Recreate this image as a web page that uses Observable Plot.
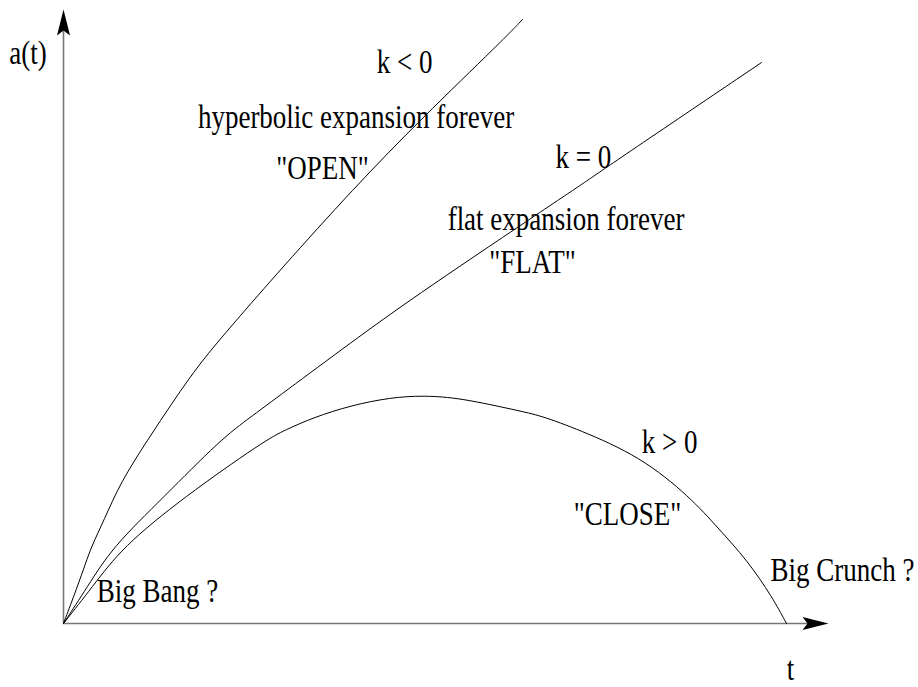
<!DOCTYPE html>
<html>
<head>
<meta charset="utf-8">
<script src="https://cdn.jsdelivr.net/npm/d3@7"></script>
<script src="https://cdn.jsdelivr.net/npm/@observablehq/plot@0.6"></script>
<style>
  html, body { margin: 0; padding: 0; background: #fff; }
</style>
</head>
<body>
<div id="chart"></div>
<script>
// Open universe (k < 0)
const openT = [0, 0.179, 0.288, 0.366, 0.527, 0.745, 1.094, 1.442, 1.778, 2.222, 2.837, 3.791, 4.667, 5.739, 6.000];
const openA = [0, 0.473, 0.782, 1.003, 1.342, 1.837, 2.384, 2.906, 3.388, 3.909, 4.612, 5.668, 6.567, 7.596, 7.870];
// Flat universe (k = 0)
const flatT = [0, 0.310, 0.637, 1.307, 2.052, 2.444, 2.967, 3.882, 4.667, 6.458, 6.850, 7.150, 9.124];
const flatA = [0, 0.473, 0.994, 1.642, 2.397, 2.688, 3.075, 3.752, 4.313, 5.511, 5.772, 5.980, 7.309];
// Closed universe (k > 0)
const closeT = [0, 0.375, 0.767, 1.569, 2.621, 2.902, 3.268, 3.752, 4.275, 4.706, 5.190, 5.935, 6.235, 6.732, 7.542, 8.196, 8.549, 8.941, 9.268, 9.451];
const closeA = [0, 0.473, 0.994, 1.642, 2.378, 2.524, 2.684, 2.840, 2.945, 2.971, 2.938, 2.775, 2.710, 2.528, 2.176, 1.642, 1.251, 0.821, 0.339, 0];

// Annotation labels
const labelText = ["a(t)", "k < 0", "hyperbolic expansion forever", "\"OPEN\"", "k = 0", "flat expansion forever", "\"FLAT\"", "k > 0", "\"CLOSE\"", "Big Bang ?", "Big Crunch ?", "t"];
const labelT = [-0.464, 4.458, 3.824, 3.386, 6.797, 6.569, 6.131, 7.922, 7.373, 1.229, 10.183, 9.503];
const labelA = [7.296, 7.179, 6.450, 5.798, 5.941, 5.121, 4.573, 2.215, 1.277, 0.274, 0.560, -0.730];

// Axis extents
const tMax = 10;
const aMax = 8;

const curves = [
  ...openT.map((t, i) => ({series: "open", t, a: openA[i]})),
  ...flatT.map((t, i) => ({series: "flat", t, a: flatA[i]})),
  ...closeT.map((t, i) => ({series: "close", t, a: closeA[i]}))
];
const labels = labelText.map((text, i) => ({text, t: labelT[i], a: labelA[i]}));
const arrows = [{t: 0, a: aMax, rot: 0}, {t: tMax, a: 0, rot: 90}];

const arrowHead = {
  draw(ctx) {
    ctx.moveTo(0, 0);
    ctx.lineTo(6.5, 26);
    ctx.lineTo(0, 21);
    ctx.lineTo(-6.5, 26);
    ctx.closePath();
  }
};

const fontFamily = "'Liberation Serif', 'Times New Roman', serif";

const chart = Plot.plot({
  width: 918,
  height: 687,
  marginLeft: 63,
  marginRight: 90,
  marginTop: 9,
  marginBottom: 64,
  x: {domain: [0, tMax], axis: null},
  y: {domain: [0, aMax], axis: null},
  style: {background: "#fff", fontFamily},
  marks: [
    Plot.ruleX([0], {y1: 0, y2: aMax - 0.25, stroke: "#777", strokeWidth: 1.6}),
    Plot.ruleY([0], {x1: 0, x2: tMax - 0.25, stroke: "#777", strokeWidth: 1.6}),
    Plot.dot(arrows, {x: "t", y: "a", rotate: "rot", symbol: arrowHead, fill: "black", stroke: "none", r: 10}),
    Plot.line(curves, {x: "t", y: "a", z: "series", curve: "basis", stroke: "black", strokeWidth: 1}),
    Plot.text(labels, {x: "t", y: "a", text: "text", fontSize: 27, fontFamily, textAnchor: "middle", lineAnchor: "bottom", fill: "black"})
  ]
});

chart.querySelectorAll('g[aria-label="text"] text').forEach(el => {
  const tr = el.getAttribute("transform") || "";
  el.setAttribute("transform", tr + " scale(1,1.23)");
});

document.getElementById("chart").appendChild(chart);
</script>
</body>
</html>
